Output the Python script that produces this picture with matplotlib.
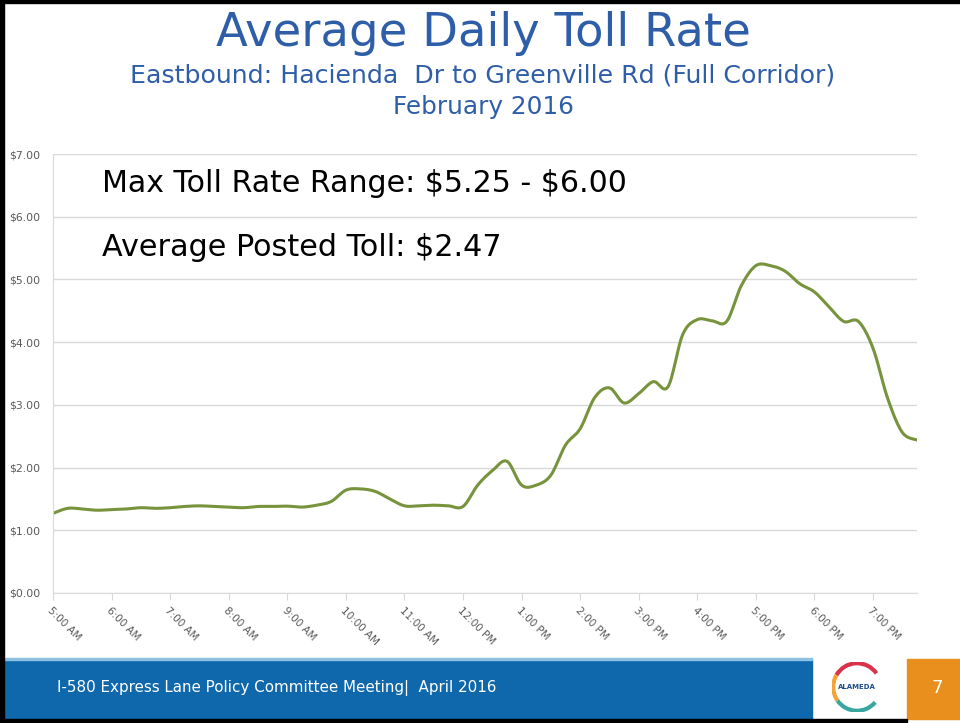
import numpy as np
import matplotlib
matplotlib.use("Agg")
import matplotlib.pyplot as plt
from matplotlib.patches import Rectangle, Arc

# average posted toll, every 15 minutes from 5:00 AM to 7:45 PM
tolls = [1.27, 1.35, 1.34, 1.32, 1.33, 1.34, 1.36, 1.35, 1.36, 1.38,
         1.39, 1.38, 1.37, 1.36, 1.38, 1.38, 1.385, 1.37, 1.40, 1.46,
         1.64, 1.66, 1.62, 1.50, 1.39, 1.39, 1.40, 1.39, 1.38, 1.72,
         1.95, 2.10, 1.72, 1.72, 1.88, 2.36, 2.62, 3.12, 3.27, 3.03,
         3.18, 3.37, 3.29, 4.12, 4.36, 4.34, 4.33, 4.90, 5.22, 5.22,
         5.13, 4.93, 4.80, 4.56, 4.33, 4.33, 3.90, 3.10, 2.56, 2.44]
hour_labels = ["5:00 AM", "6:00 AM", "7:00 AM", "8:00 AM", "9:00 AM",
               "10:00 AM", "11:00 AM", "12:00 PM", "1:00 PM", "2:00 PM",
               "3:00 PM", "4:00 PM", "5:00 PM", "6:00 PM", "7:00 PM"]
y_ticks = [0, 1, 2, 3, 4, 5, 6, 7]

plt.rcParams['font.family'] = ['DejaVu Sans']

BLUE = '#2f5ea8'
GREY = '#595959'


def smooth(x, y, steps=12):
    # Catmull-Rom curve through the points, like Excel's smoothed line
    x = np.asarray(x, float)
    y = np.asarray(y, float)
    px = np.concatenate([[x[0]], x, [x[-1]]])
    py = np.concatenate([[y[0]], y, [y[-1]]])
    t = np.linspace(0, 1, steps, endpoint=False)
    xs, ys = [], []
    for i in range(1, len(px) - 2):
        for arr, out in ((px, xs), (py, ys)):
            p0, p1, p2, p3 = arr[i - 1], arr[i], arr[i + 1], arr[i + 2]
            out.extend(0.5 * (2 * p1 + (-p0 + p2) * t
                              + (2 * p0 - 5 * p1 + 4 * p2 - p3) * t ** 2
                              + (-p0 + 3 * p1 - 3 * p2 + p3) * t ** 3))
    xs.append(x[-1])
    ys.append(y[-1])
    return np.array(xs), np.array(ys)


fig = plt.figure(figsize=(9.6, 7.23), dpi=100)
W, H = 960, 723

# titles
fig.text(483 / W, 1 - 34 / H, "Average Daily Toll Rate", color=BLUE,
         fontsize=33.5, ha='center', va='center')
fig.text(483 / W, 1 - 76 / H,
         "Eastbound: Hacienda  Dr to Greenville Rd (Full Corridor)",
         color=BLUE, fontsize=18.2, ha='center', va='center')
fig.text(483 / W, 1 - 107 / H, "February 2016", color=BLUE,
         fontsize=17.8, ha='center', va='center')

ax = fig.add_axes([53 / W, 130 / H, (917 - 53) / W, (593 - 154) / H])
x = np.arange(len(tolls))
sx, sy = smooth(x, tolls)
ax.plot(sx, sy, color='#77933c', linewidth=2.2, solid_capstyle='round')

ax.set_xlim(0, len(tolls) - 1)
ax.set_ylim(0, 7)
ax.set_yticks(y_ticks)
ax.set_yticklabels([f"${v:.2f}" for v in y_ticks])
ax.set_xticks(np.arange(0, len(tolls), 4))
ax.set_xticklabels(hour_labels, rotation=-45, ha='left', va='top',
                   rotation_mode='anchor')
ax.tick_params(axis='x', colors='#d9d9d9', length=5, labelcolor=GREY,
               labelsize=7.5, pad=4)
ax.tick_params(axis='y', length=0, labelcolor=GREY, labelsize=7.8, pad=9)
ax.grid(axis='y', color='#d9d9d9', linewidth=1)
ax.set_axisbelow(True)
for side in ['top', 'right']:
    ax.spines[side].set_visible(False)
for side in ['left', 'bottom']:
    ax.spines[side].set_color('#d9d9d9')

ax.text(102 / W, 1 - 183 / H, r"Max Toll Rate Range: \$5.25 - \$6.00",
        transform=fig.transFigure, fontsize=21.6, color='black',
        va='center', ha='left')
ax.text(102 / W, 1 - 247 / H, r"Average Posted Toll: \$2.47",
        transform=fig.transFigure, fontsize=21.8, color='black',
        va='center', ha='left')

# footer band
fig.patches.append(Rectangle((0, 1 - 719 / H), 812 / W, 60 / H,
                             transform=fig.transFigure, color='#0f68ab'))
fig.patches.append(Rectangle((0, 1 - 660 / H), 812 / W, 2 / H,
                             transform=fig.transFigure, color='#8cc1e3'))
fig.patches.append(Rectangle((907 / W, 1 - 719 / H), 53 / W, 60 / H,
                             transform=fig.transFigure, color='#e98f1d'))
fig.text(57 / W, 1 - 688 / H,
         "I-580 Express Lane Policy Committee Meeting|  April 2016",
         color='white', fontsize=10.9, va='center', ha='left')
fig.text(937 / W, 1 - 688 / H, "7", color='white', fontsize=13,
         va='center', ha='center')

# small logo: coloured arcs around the name
logo = fig.add_axes([832 / W, 1 - 712 / H, 50 / W, 50 / H])
logo.set_xlim(-1, 1)
logo.set_ylim(-1, 1)
logo.axis('off')
logo.add_patch(Arc((0, 0), 1.9, 1.9, theta1=35, theta2=150,
                   color='#d9334c', linewidth=3))
logo.add_patch(Arc((0, 0), 1.9, 1.9, theta1=150, theta2=215,
                   color='#f2a33a', linewidth=3))
logo.add_patch(Arc((0, 0), 1.9, 1.9, theta1=215, theta2=320,
                   color='#3aa6a0', linewidth=3))
logo.text(0, 0, "ALAMEDA", color='#1f4e8c', fontsize=5, fontweight='bold',
          ha='center', va='center')

# slide border
fig.patches.append(Rectangle((0, 1 - 722 / H), 4 / W, 722 / H,
                             transform=fig.transFigure, color='black'))
fig.patches.append(Rectangle((0, 1 - 3 / H), 1, 3 / H,
                             transform=fig.transFigure, color='black'))
fig.patches.append(Rectangle((0, 1 - 722 / H), 907 / W, 3 / H,
                             transform=fig.transFigure, color='black'))

fig.savefig("out.png", dpi=100)
